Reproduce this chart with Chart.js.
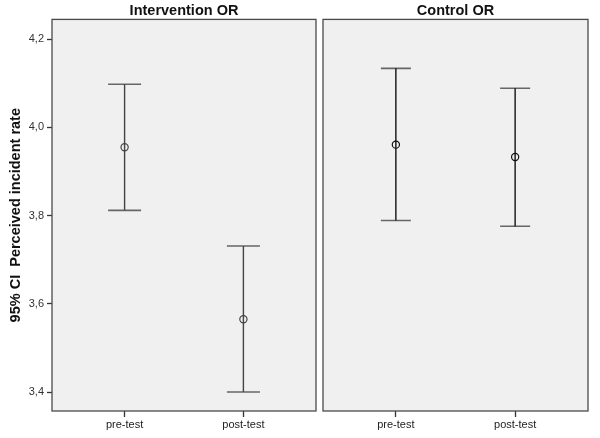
<!DOCTYPE html>
<html>
<head>
<meta charset="utf-8">
<script src="https://cdn.jsdelivr.net/npm/chart.js@4"></script>
<style>
  body { margin: 0; background: #fff; }
  #wrap { position: relative; width: 600px; height: 438px; }
  .panel { position: absolute; top: 0; height: 438px; }
</style>
</head>
<body>
<div id="wrap">
  <div class="panel" style="left:0;width:318px"><canvas id="ChartIntervention"></canvas></div>
  <div class="panel" style="left:318px;width:282px"><canvas id="ChartControl"></canvas></div>
</div>
<script>
// data
const xLabels = ['pre-test', 'post-test'];
const yTicks = [3.4, 3.6, 3.8, 4.0, 4.2];

const interventionMean = [3.955, 3.565];
const interventionLower = [3.812, 3.400];
const interventionUpper = [4.098, 3.731];

const controlMean = [3.961, 3.933];
const controlLower = [3.789, 3.776];
const controlUpper = [4.134, 4.089];

const fontFam = 'Arial, "Liberation Sans", sans-serif';

// panel background + frame
const panelFrame = {
  id: 'panelFrame',
  beforeDraw(chart) {
    const a = chart.chartArea, ctx = chart.ctx;
    ctx.save();
    ctx.fillStyle = '#f0f0f0';
    ctx.fillRect(a.left, a.top, a.right - a.left, a.bottom - a.top);
    ctx.restore();
  },
  afterDraw(chart) {
    const a = chart.chartArea, ctx = chart.ctx;
    ctx.save();
    ctx.strokeStyle = '#4a4a4a';
    ctx.lineWidth = 1.3;
    ctx.strokeRect(a.left, a.top, a.right - a.left, a.bottom - a.top);
    ctx.restore();
  }
};

const makeChart = (id, title, mean, lower, upper, opts) => {
  const whiskers = xLabels.map((lab, i) => ({
    type: 'line',
    data: [{x: i, y: lower[i]}, {x: i, y: upper[i]}],
    borderColor: opts.lineColor,
    borderWidth: 1.4,
    pointRadius: 0
  }));
  const caps = {
    type: 'scatter',
    data: xLabels.flatMap((lab, i) => [{x: i, y: lower[i]}, {x: i, y: upper[i]}]),
    pointStyle: 'line',
    pointRadius: opts.capRadius,
    borderColor: '#666',
    borderWidth: 1.6
  };
  const means = {
    type: 'scatter',
    data: mean.map((v, i) => ({x: i, y: v})),
    pointStyle: 'circle',
    pointRadius: 3.6,
    backgroundColor: 'rgba(0,0,0,0)',
    borderColor: opts.lineColor,
    borderWidth: 1.2
  };

  return new Chart(document.querySelector('#' + id), {
    type: 'scatter',
    data: { datasets: [...whiskers, caps, means] },
    options: {
      responsive: true,
      maintainAspectRatio: false,
      animation: false,
      events: [],
      layout: { autoPadding: false, padding: opts.padding },
      plugins: {
        legend: { display: false },
        tooltip: { enabled: false },
        title: {
          display: true,
          text: title,
          fullSize: false,
          color: '#111',
          font: { family: fontFam, size: 14.5, weight: 'bold' },
          padding: { top: 2, bottom: 0 }
        }
      },
      scales: {
        x: {
          type: 'linear',
          min: -0.611,
          max: 1.611,
          afterBuildTicks: s => { s.ticks = xLabels.map((l, i) => ({value: i})); },
          afterFit: s => { s.height = 27; s.paddingLeft = 0; s.paddingRight = 0; },
          border: { display: false },
          grid: { drawOnChartArea: false, drawTicks: true, tickLength: 6, color: '#333', tickWidth: 1.3 },
          ticks: {
            padding: 1,
            color: '#222',
            font: { family: fontFam, size: 11 },
            callback: v => xLabels[v]
          }
        },
        y: {
          display: opts.showY,
          min: 3.357,
          max: 4.245,
          afterBuildTicks: s => { s.ticks = yTicks.map(v => ({value: v})); },
          afterFit: s => { if (opts.showY) s.width = 52; s.paddingTop = 0; s.paddingBottom = 0; },
          border: { display: false },
          grid: { drawOnChartArea: false, drawTicks: true, tickLength: 5, color: '#333', tickWidth: 1.3 },
          ticks: {
            padding: 3,
            color: '#333',
            font: { family: fontFam, size: 11 },
            callback: v => v.toFixed(1).replace('.', ',')
          },
          title: {
            display: true,
            text: '95% CI  Perceived incident rate',
            color: '#111',
            font: { family: fontFam, size: 14.5, weight: 'bold' },
            padding: { top: 7, bottom: 2 }
          }
        }
      }
    },
    plugins: [panelFrame]
  });
};

makeChart('ChartIntervention', 'Intervention OR', interventionMean, interventionLower, interventionUpper,
  { lineColor: '#444', capRadius: 16.5, showY: true, padding: { left: 0, right: 2, top: 0, bottom: 0 } });
makeChart('ChartControl', 'Control OR', controlMean, controlLower, controlUpper,
  { lineColor: '#111', capRadius: 15, showY: false, padding: { left: 5, right: 12, top: 0, bottom: 0 } });
</script>
</body>
</html>
